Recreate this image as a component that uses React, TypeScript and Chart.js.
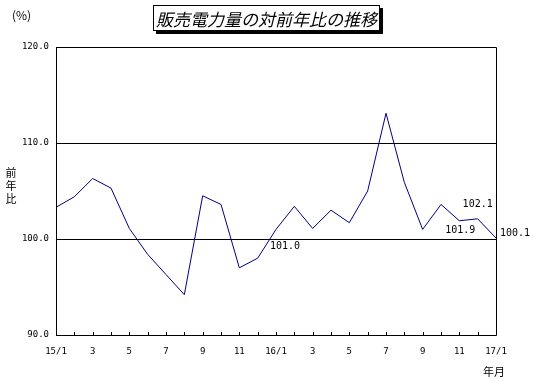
import React, { useEffect, useRef } from "react";
import { Chart, registerables } from "chart.js";

Chart.register(...registerables);

const months: string[] = [
  "15/1", "", "3", "", "5", "", "7", "", "9", "", "11", "",
  "16/1", "", "3", "", "5", "", "7", "", "9", "", "11", "", "17/1",
];
const ratio: number[] = [
  103.3, 104.4, 106.3, 105.3, 101.1, 98.4, 96.3, 94.2, 104.5, 103.6, 97.0, 98.0,
  101.0, 103.4, 101.1, 103.0, 101.7, 105.0, 113.1, 105.9, 101.0, 103.6, 101.9, 102.1, 100.1,
];
const labelIndices: number[] = [12, 22, 23, 24];
const labelTexts: string[] = ["101.0", "101.9", "102.1", "100.1"];
const yMin = 90;
const yMax = 120;
const yStep = 10;

const NUM_FONT = '"DejaVu Sans Mono", monospace';
const JP_FONT = '"Noto Sans CJK JP", sans-serif';

const labelOffsets: [number, number][] = [
  [9, 17],
  [1, 10],
  [0, -14],
  [19, -5],
];

const framePlugin = {
  id: "framePlugin",
  afterDraw(chart: any) {
    const { ctx, chartArea } = chart;
    const xs = chart.scales.x;
    ctx.save();
    ctx.strokeStyle = "#000";
    ctx.lineWidth = 1;
    ctx.beginPath();
    ctx.rect(
      Math.round(chartArea.left) + 0.5,
      Math.round(chartArea.top) + 0.5,
      Math.round(chartArea.right - chartArea.left),
      Math.round(chartArea.bottom - chartArea.top)
    );
    ctx.stroke();
    // inside tick marks on x axis
    ctx.beginPath();
    for (let i = 0; i < months.length; i++) {
      const px = Math.round(xs.getPixelForValue(i)) + 0.5;
      ctx.moveTo(px, Math.round(chartArea.bottom));
      ctx.lineTo(px, Math.round(chartArea.bottom) - 3);
    }
    ctx.stroke();
    // data labels
    const meta = chart.getDatasetMeta(0);
    ctx.fillStyle = "#000";
    ctx.font = `10px ${NUM_FONT}`;
    ctx.textAlign = "center";
    ctx.textBaseline = "middle";
    labelIndices.forEach((idx, k) => {
      const pt = meta.data[idx];
      const [dx, dy] = labelOffsets[k];
      ctx.fillText(labelTexts[k], pt.x + dx, pt.y + dy);
    });
    ctx.restore();
  },
};

export default function App() {
  const ref = useRef<HTMLCanvasElement | null>(null);

  useEffect(() => {
    if (!ref.current) return;
    const chart = new Chart(ref.current, {
      type: "line",
      data: {
        labels: months,
        datasets: [
          {
            data: ratio,
            borderColor: "#000080",
            borderWidth: 1,
            pointRadius: 0,
            tension: 0,
            fill: false,
          },
        ],
      },
      options: {
        responsive: false,
        animation: false,
        layout: { padding: { left: 0, right: 39, top: 47, bottom: 0 } },
        plugins: {
          legend: { display: false },
          tooltip: { enabled: false },
          title: { display: false },
        },
        scales: {
          x: {
            type: "category",
            offset: false,
            grid: { display: false, drawTicks: false },
            border: { display: false },
            ticks: {
              autoSkip: false,
              maxRotation: 0,
              minRotation: 0,
              padding: 11,
              color: "#000",
              font: { family: NUM_FONT, size: 9 },
            },
            afterFit: (s: any) => {
              s.height = 46;
            },
          },
          y: {
            min: yMin,
            max: yMax,
            grid: { color: "#000", lineWidth: 1, drawTicks: false },
            border: { display: false },
            ticks: {
              stepSize: yStep,
              padding: 7,
              color: "#000",
              font: { family: NUM_FONT, size: 9 },
              callback: (v: any) => Number(v).toFixed(1),
            },
            afterFit: (s: any) => {
              s.width = 56;
            },
          },
        },
      },
      plugins: [framePlugin],
    });
    return () => chart.destroy();
  }, []);

  const txt: React.CSSProperties = {
    position: "absolute",
    color: "#000",
    fontFamily: JP_FONT,
    whiteSpace: "nowrap",
    lineHeight: 1,
  };

  return (
    <div style={{ position: "fixed", left: 0, top: 0, width: 535, height: 381, background: "#fff" }}>
      <canvas ref={ref} width={535} height={381} style={{ position: "absolute", left: 0, top: 0 }} />
      <div
        style={{
          position: "absolute",
          left: 153,
          top: 5,
          width: 227,
          height: 26,
          border: "1px solid #000",
          boxShadow: "3px 3px 0 #000",
          background: "#fff",
          boxSizing: "border-box",
          display: "flex",
          alignItems: "center",
          justifyContent: "center",
        }}
      >
        <span style={{ fontFamily: JP_FONT, fontStyle: "italic", fontSize: 17, lineHeight: 1, whiteSpace: "nowrap" }}>
          販売電力量の対前年比の推移
        </span>
      </div>
      <div style={{ ...txt, left: 12, top: 9, fontSize: 12 }}>(%)</div>
      <div style={{ ...txt, left: 5, top: 166, fontSize: 11, width: 12, lineHeight: "13px", textAlign: "center" }}>
        前<br />年<br />比
      </div>
      <div style={{ ...txt, left: 483, top: 366, fontSize: 11 }}>年月</div>
    </div>
  );
}
